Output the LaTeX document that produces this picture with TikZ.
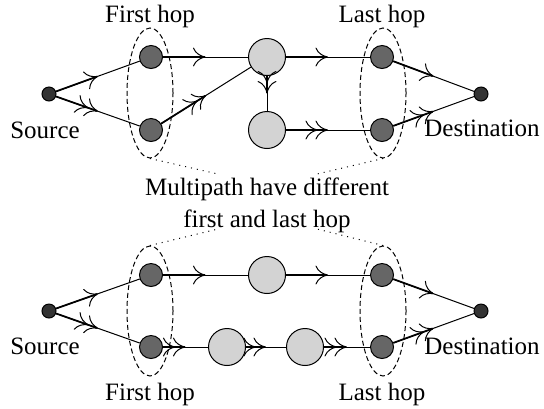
\documentclass[tikz,border=0pt]{standalone}
\usepackage{fontspec}
\setmainfont{Liberation Serif}
\usetikzlibrary{arrows.meta,shapes.geometric}
\definecolor{endc}{HTML}{333333}
\definecolor{hopc}{HTML}{666666}
\definecolor{relc}{HTML}{D3D3D3}
\tikzset{
  endpt/.style={circle,draw=black,fill=endc,minimum size=5.6pt,inner sep=0pt,line width=0.4pt},
  hopnd/.style={circle,draw=black,fill=hopc,minimum size=9.2pt,inner sep=0pt,line width=0.4pt},
  relay/.style={circle,draw=black,fill=relc,minimum size=14.8pt,inner sep=0pt,line width=0.4pt},
  ring/.style={ellipse,draw=black,dashed,dash pattern=on 2pt off 1.2pt,minimum width=18.4pt,minimum height=52pt,inner sep=0pt,line width=0.4pt},
  lbl/.style={font=\fontsize{10}{12}\selectfont,inner sep=0pt},
  wire/.style={line width=0.4pt},
  wirethick/.style={line width=0.7pt},
  tipone/.style={-{Computer Modern Rightarrow[length=5pt,width=7.5pt,line width=0.4pt]}},
  tiptwo/.style={-{Computer Modern Rightarrow[length=5pt,width=7.5pt,line width=0.4pt,sep=-1pt] Computer Modern Rightarrow[length=5pt,width=7.5pt,line width=0.4pt]}},
  dots/.style={dotted,line width=0.4pt}
}
\newcommand\lnkone[2]{\draw[wire] (#1) -- (#2) coordinate[pos=0.5] (mid); \draw[wirethick,tipone] (#1) -- (mid);}
\newcommand\lnktwo[2]{\draw[wire] (#1) -- (#2) coordinate[pos=0.5] (mid); \draw[wirethick,tiptwo] (#1) -- (mid);}
\begin{document}
\begin{tikzpicture}[x=0.4pt,y=-0.4pt]
\useasboundingbox (0,0) rectangle (544,408);
% ---------- top diagram ----------
\node[ring] (tf) at (150,93) {};
\node[ring] (tl) at (383,93) {};
\node[endpt] (ts) at (49,94) {};
\node[endpt] (td) at (481,94) {};
\node[hopnd] (tf1) at (151,57) {};
\node[hopnd] (tf2) at (151,130) {};
\node[hopnd] (tl1) at (382,57) {};
\node[hopnd] (tl2) at (382,130) {};
\node[relay] (tr1) at (267,57) {};
\node[relay] (tr2) at (267,130) {};
\node[lbl] (tfl) at (150,16) {First hop};
\node[lbl] (tll) at (382,16) {Last hop};
\node[lbl] (tsl) at (45,130) {Source};
\node[lbl] (tdl) at (482,128) {Destination};
\lnkone{ts}{tf1}
\lnktwo{ts}{tf2}
\lnkone{tf1}{tr1}
\lnktwo{tf2}{tr1}
\lnktwo{tr1}{tr2}
\lnkone{tr1}{tl1}
\lnktwo{tr2}{tl2}
\lnkone{tl1}{td}
\lnktwo{tl2}{td}
% ---------- caption ----------
\node[lbl] (m1) at (267,189) {Multipath have different};
\node[lbl] (m2) at (267,221) {first and last hop};
\coordinate (c1) at (218,174);
\coordinate (c2) at (317,174);
\coordinate (c3) at (218,229);
\coordinate (c4) at (317,229);
% ---------- bottom diagram ----------
\node[ring] (bf) at (150,311) {};
\node[ring] (bl) at (383,311) {};
\node[endpt] (bs) at (49,311) {};
\node[endpt] (bd) at (481,311) {};
\node[hopnd] (bf1) at (151,275) {};
\node[hopnd] (bf2) at (151,347) {};
\node[hopnd] (bl1) at (382,275) {};
\node[hopnd] (bl2) at (382,347) {};
\node[relay] (br1) at (267,275) {};
\node[relay] (br2) at (227,347) {};
\node[relay] (br3) at (305,347) {};
\node[lbl] (bfl) at (150,394) {First hop};
\node[lbl] (bll) at (382,394) {Last hop};
\node[lbl] (bsl) at (45,346) {Source};
\node[lbl] (bdl) at (482,346) {Destination};
\lnkone{bs}{bf1}
\lnktwo{bs}{bf2}
\lnkone{bf1}{br1}
\lnkone{br1}{bl1}
\lnktwo{bf2}{br2}
\lnktwo{br2}{br3}
\lnktwo{br3}{bl2}
\lnkone{bl1}{bd}
\lnktwo{bl2}{bd}
% ---------- dotted pointers ----------
\draw[dots] (tf.south) -- (c1);
\draw[dots] (tl.south) -- (c2);
\draw[dots] (bf.north) -- (c3);
\draw[dots] (bl.north) -- (c4);
\end{tikzpicture}
\end{document}
